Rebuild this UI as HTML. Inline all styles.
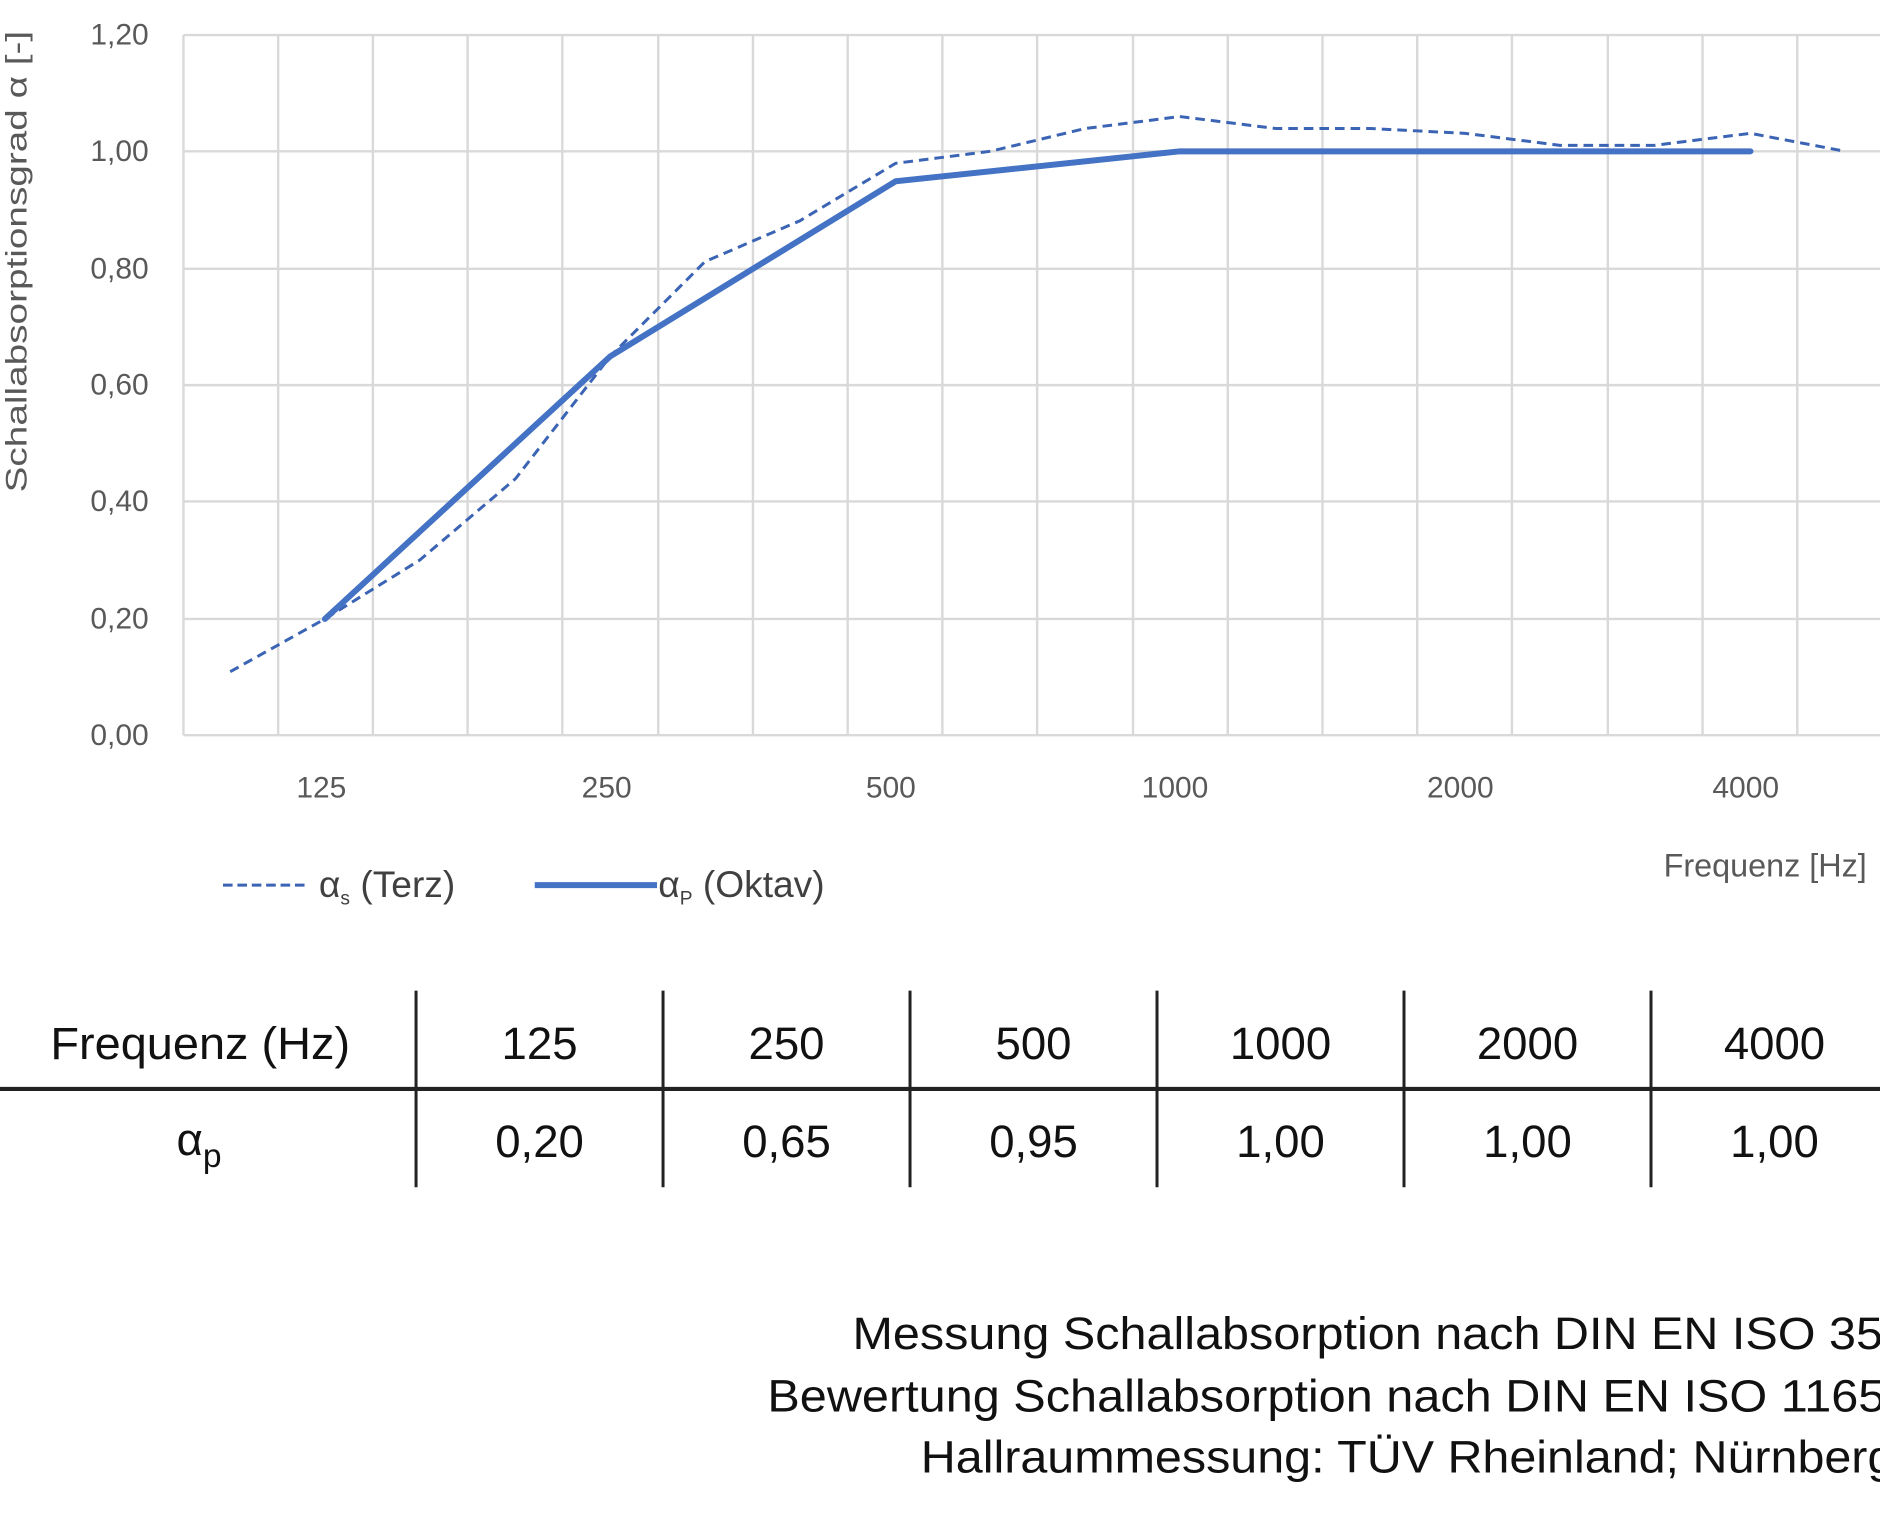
<!DOCTYPE html>
<html><head><meta charset="utf-8"><style>
html,body{margin:0;padding:0;background:#fff;overflow:hidden}
svg{display:block}
text{font-family:"Liberation Sans",sans-serif}
</style></head><body>
<svg width="1880" height="1516" viewBox="0 0 1568 1264" xmlns="http://www.w3.org/2000/svg">
<rect width="1568" height="1264" fill="#fff"/>
<g stroke="#d9d9d9" stroke-width="2">
<line x1="153" y1="29" x2="1568" y2="29"/>
<line x1="153" y1="126" x2="1568" y2="126"/>
<line x1="153" y1="224" x2="1568" y2="224"/>
<line x1="153" y1="321" x2="1568" y2="321"/>
<line x1="153" y1="418" x2="1568" y2="418"/>
<line x1="153" y1="516" x2="1568" y2="516"/>
<line x1="153" y1="613" x2="1568" y2="613"/>
<line x1="153" y1="29" x2="153" y2="613"/>
<line x1="232" y1="29" x2="232" y2="613"/>
<line x1="311" y1="29" x2="311" y2="613"/>
<line x1="390" y1="29" x2="390" y2="613"/>
<line x1="469" y1="29" x2="469" y2="613"/>
<line x1="549" y1="29" x2="549" y2="613"/>
<line x1="628" y1="29" x2="628" y2="613"/>
<line x1="707" y1="29" x2="707" y2="613"/>
<line x1="786" y1="29" x2="786" y2="613"/>
<line x1="865" y1="29" x2="865" y2="613"/>
<line x1="945" y1="29" x2="945" y2="613"/>
<line x1="1024" y1="29" x2="1024" y2="613"/>
<line x1="1103" y1="29" x2="1103" y2="613"/>
<line x1="1182" y1="29" x2="1182" y2="613"/>
<line x1="1261" y1="29" x2="1261" y2="613"/>
<line x1="1341" y1="29" x2="1341" y2="613"/>
<line x1="1420" y1="29" x2="1420" y2="613"/>
<line x1="1499" y1="29" x2="1499" y2="613"/>
</g>
<g fill="#595959" font-size="25" text-anchor="end">
<text x="124" y="37">1,20</text>
<text x="124" y="134">1,00</text>
<text x="124" y="232">0,80</text>
<text x="124" y="329">0,60</text>
<text x="124" y="426">0,40</text>
<text x="124" y="524">0,20</text>
<text x="124" y="621">0,00</text>
</g>
<text transform="translate(22,218) rotate(-90)" fill="#595959" font-size="25" text-anchor="middle" textLength="385" lengthAdjust="spacingAndGlyphs">Schallabsorptionsgrad α [-]</text>
<g fill="#595959" font-size="25" text-anchor="middle">
<text x="268" y="665">125</text>
<text x="506" y="665">250</text>
<text x="743" y="665">500</text>
<text x="980" y="665">1000</text>
<text x="1218" y="665">2000</text>
<text x="1456" y="665">4000</text>
</g>
<text x="1557" y="731" fill="#595959" font-size="27" text-anchor="end">Frequenz [Hz]</text>
<polyline fill="none" stroke="#3c64b4" stroke-width="2.5" stroke-dasharray="8,5" points="192,560 271,516 350,467 430,399 509,297 588,218 667,184 747,136 826,126 905,107 984,97 1064,107 1143,107 1222,111 1301,121 1380,121 1460,111 1539,126"/>
<polyline fill="none" stroke="#4472c4" stroke-width="5" stroke-linecap="round" points="271,516 509,297 747,151 984,126 1460,126"/>
<line x1="186" y1="738" x2="256" y2="738" stroke="#3c64b4" stroke-width="2.5" stroke-dasharray="8,4"/>
<text x="266" y="748" font-size="31" fill="#404040">α<tspan font-size="16" dy="6">s</tspan><tspan dy="-6"> (Terz)</tspan></text>
<line x1="446" y1="738" x2="548" y2="738" stroke="#4472c4" stroke-width="5"/>
<text x="549" y="748" font-size="31" fill="#404040">α<tspan font-size="16" dy="6">P</tspan><tspan dy="-6"> (Oktav)</tspan></text>
<g stroke="#222" stroke-width="2.5">
<line x1="347" y1="826" x2="347" y2="990"/>
<line x1="553" y1="826" x2="553" y2="990"/>
<line x1="759" y1="826" x2="759" y2="990"/>
<line x1="965" y1="826" x2="965" y2="990"/>
<line x1="1171" y1="826" x2="1171" y2="990"/>
<line x1="1377" y1="826" x2="1377" y2="990"/>
</g>
<line x1="0" y1="908" x2="1568" y2="908" stroke="#222" stroke-width="3.5"/>
<g fill="#111" font-size="38" text-anchor="middle">
<text x="167" y="883" textLength="250" lengthAdjust="spacingAndGlyphs">Frequenz (Hz)</text>
<text x="450" y="883">125</text>
<text x="656" y="883">250</text>
<text x="862" y="883">500</text>
<text x="1068" y="883">1000</text>
<text x="1274" y="883">2000</text>
<text x="1480" y="883">4000</text>
<text x="166" y="963">α<tspan font-size="28" dy="10">p</tspan></text>
<text x="450" y="965">0,20</text>
<text x="656" y="965">0,65</text>
<text x="862" y="965">0,95</text>
<text x="1068" y="965">1,00</text>
<text x="1274" y="965">1,00</text>
<text x="1480" y="965">1,00</text>
</g>
<g fill="#111" font-size="38">
<text x="711" y="1125" textLength="882" lengthAdjust="spacingAndGlyphs">Messung Schallabsorption nach DIN EN ISO 354</text>
<text x="640" y="1177" textLength="955" lengthAdjust="spacingAndGlyphs">Bewertung Schallabsorption nach DIN EN ISO 11654</text>
<text x="768" y="1228" textLength="812" lengthAdjust="spacingAndGlyphs">Hallraummessung: TÜV Rheinland; Nürnberg</text>
</g>
</svg>
</body></html>
